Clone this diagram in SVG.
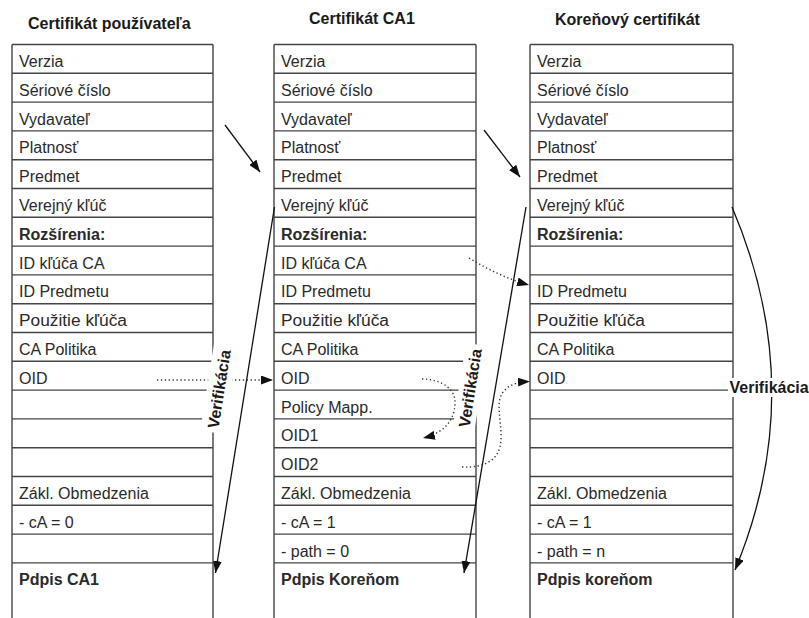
<svg xmlns="http://www.w3.org/2000/svg" width="809" height="618" viewBox="0 0 809 618">
  <defs>
    <style>
      .grid { fill: none; stroke: #444; stroke-width: 1.4; }
      .cell { font-family: "Liberation Sans", Arial, sans-serif; font-size: 16px; fill: #2a2a2a; }
      .b { font-weight: bold; }
      .head { font-family: "Liberation Sans", Arial, sans-serif; font-size: 16px; font-weight: bold; fill: #1a1a1a; }
      .conn { fill: none; stroke: #111; stroke-width: 1.3; }
      .dot { fill: none; stroke: #333; stroke-width: 1.4; stroke-dasharray: 1.3 2.6; }
      .lbl { font-family: "Liberation Sans", Arial, sans-serif; font-size: 16px; font-weight: bold; fill: #1a1a1a; }
      .lblbg { fill: #fff; }
    </style>
    <marker id="ah" markerUnits="userSpaceOnUse" viewBox="0 0 12 9" markerWidth="12" markerHeight="9" refX="12" refY="4.5" orient="auto">
      <path d="M0,0L12,4.5L0,9z" fill="#111"/>
    </marker>
  </defs>

  <rect width="809" height="618" fill="#fff"/>

  <!-- user certificate -->
  <g id="cert-user">
    <text class="head" x="28" y="28.5">Certifikát používateľa</text>
    <path class="grid" d="M12,44.5h201m-201,28.8h201m-201,28.8h201m-201,28.8h201m-201,28.8h201m-201,28.8h201m-201,28.8h201m-201,28.8h201m-201,28.8h201m-201,28.8h201m-201,28.8h201m-201,28.8h201m-201,28.8h201m-201,28.8h201m-201,28.8h201m-201,28.8h201m-201,28.8h201m-201,28.8h201m-201,28.8h201M12,44.5V618M213,44.5V618"/>
    <g class="cell" transform="translate(0,1)">
      <text x="19" y="66">Verzia</text>
      <text x="19" y="94.8">Sériové číslo</text>
      <text x="19" y="123.6">Vydavateľ</text>
      <text x="19" y="152.4">Platnosť</text>
      <text x="19" y="181.2">Predmet</text>
      <text x="19" y="210">Verejný kľúč</text>
      <text x="19" y="238.8" class="b">Rozšírenia:</text>
      <text x="19" y="267.6">ID kľúča CA</text>
      <text x="19" y="296.4">ID Predmetu</text>
      <text x="19" y="325.2" textLength="108" lengthAdjust="spacingAndGlyphs">Použitie kľúča</text>
      <text x="19" y="354">CA Politika</text>
      <text x="19" y="382.8">OID</text>
      <text x="19" y="498">Zákl. Obmedzenia</text>
      <text x="19" y="526.8">- cA = 0</text>
      <text x="19" y="584.4" class="b">Pdpis CA1</text>
    </g>
  </g>

  <!-- intermediate CA certificate -->
  <g id="cert-ca1">
    <text class="head" x="309" y="24">Certifikát CA1</text>
    <path class="grid" d="M274,44.5h202m-202,28.8h202m-202,28.8h202m-202,28.8h202m-202,28.8h202m-202,28.8h202m-202,28.8h202m-202,28.8h202m-202,28.8h202m-202,28.8h202m-202,28.8h202m-202,28.8h202m-202,28.8h202m-202,28.8h202m-202,28.8h202m-202,28.8h202m-202,28.8h202m-202,28.8h202m-202,28.8h202M274,44.5V618M476,44.5V618"/>
    <g class="cell" transform="translate(0,1)">
      <text x="281" y="66">Verzia</text>
      <text x="281" y="94.8">Sériové číslo</text>
      <text x="281" y="123.6">Vydavateľ</text>
      <text x="281" y="152.4">Platnosť</text>
      <text x="281" y="181.2">Predmet</text>
      <text x="281" y="210">Verejný kľúč</text>
      <text x="281" y="238.8" class="b">Rozšírenia:</text>
      <text x="281" y="267.6">ID kľúča CA</text>
      <text x="281" y="296.4">ID Predmetu</text>
      <text x="281" y="325.2" textLength="108" lengthAdjust="spacingAndGlyphs">Použitie kľúča</text>
      <text x="281" y="354">CA Politika</text>
      <text x="281" y="382.8">OID</text>
      <text x="281" y="411.6">Policy Mapp.</text>
      <text x="281" y="440.4">OID1</text>
      <text x="281" y="469.2">OID2</text>
      <text x="281" y="498">Zákl. Obmedzenia</text>
      <text x="281" y="526.8">- cA = 1</text>
      <text x="281" y="555.6">- path = 0</text>
      <text x="281" y="584.4" class="b">Pdpis Koreňom</text>
    </g>
  </g>

  <!-- root certificate -->
  <g id="cert-root">
    <text class="head" x="555" y="25">Koreňový certifikát</text>
    <path class="grid" d="M530,44.5h203m-203,28.8h203m-203,28.8h203m-203,28.8h203m-203,28.8h203m-203,28.8h203m-203,28.8h203m-203,28.8h203m-203,28.8h203m-203,28.8h203m-203,28.8h203m-203,28.8h203m-203,28.8h203m-203,28.8h203m-203,28.8h203m-203,28.8h203m-203,28.8h203m-203,28.8h203m-203,28.8h203M530,44.5V618M733,44.5V618"/>
    <g class="cell" transform="translate(0,1)">
      <text x="537" y="66">Verzia</text>
      <text x="537" y="94.8">Sériové číslo</text>
      <text x="537" y="123.6">Vydavateľ</text>
      <text x="537" y="152.4">Platnosť</text>
      <text x="537" y="181.2">Predmet</text>
      <text x="537" y="210">Verejný kľúč</text>
      <text x="537" y="238.8" class="b">Rozšírenia:</text>
      <text x="537" y="296.4">ID Predmetu</text>
      <text x="537" y="325.2" textLength="108" lengthAdjust="spacingAndGlyphs">Použitie kľúča</text>
      <text x="537" y="354">CA Politika</text>
      <text x="537" y="382.8">OID</text>
      <text x="537" y="498">Zákl. Obmedzenia</text>
      <text x="537" y="526.8">- cA = 1</text>
      <text x="537" y="555.6">- path = n</text>
      <text x="537" y="584.4" class="b">Pdpis koreňom</text>
    </g>
  </g>

  <!-- connectors -->
  <g id="connectors">
    <!-- issuer -> subject -->
    <path class="conn" d="M225,125L260,172" marker-end="url(#ah)"/>
    <path class="conn" d="M484,130L520,177" marker-end="url(#ah)"/>
    <!-- signature verification with the issuer's public key -->
    <path class="conn" d="M274.5,207L215.5,573" marker-end="url(#ah)"/>
    <path class="conn" d="M526,207L464,573" marker-end="url(#ah)"/>
    <path class="conn" d="M732,207Q810,390 735,570" marker-end="url(#ah)"/>
    <!-- policy / key id references -->
    <path class="dot" d="M157,380L273,380" marker-end="url(#ah)"/>
    <path class="dot" d="M469,258Q500,277 529,285" marker-end="url(#ah)"/>
    <path class="dot" d="M422,379C440,379 456,388 455,404C454,424 440,434 423,438" marker-end="url(#ah)"/>
    <path class="dot" d="M462,467C485,468 500,460 501,440C502,420 494,400 505,390C512,383 520,382 530,381.5" marker-end="url(#ah)"/>

    <!-- labels -->
    <g transform="translate(219,389) rotate(-81)">
      <rect class="lblbg" x="-44" y="-12" width="88" height="24"/>
      <text class="lbl" y="5.7" text-anchor="middle">Verifikácia</text>
    </g>
    <g transform="translate(470,388) rotate(-81)">
      <rect class="lblbg" x="-44" y="-11" width="88" height="22"/>
      <text class="lbl" y="5.7" text-anchor="middle">Verifikácia</text>
    </g>
    <g>
      <rect class="lblbg" x="728" y="378" width="85" height="19"/>
      <text class="lbl" x="729.5" y="392.5">Verifikácia</text>
    </g>
  </g>
</svg>
